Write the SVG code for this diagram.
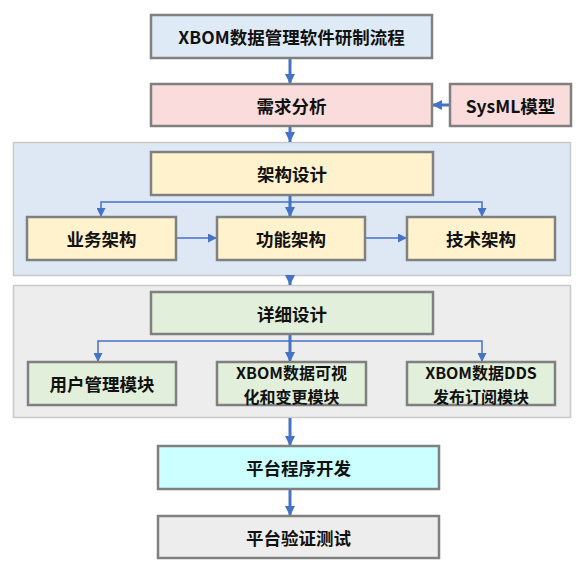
<svg xmlns="http://www.w3.org/2000/svg" width="586" height="574" viewBox="0 0 586 574">
<defs>
<style>
.box{stroke:#808080;stroke-width:2.5}
.cont{stroke:#c9c9c9;stroke-width:1.5}
.t{font-family:"Noto Sans CJK SC","Noto Sans",sans-serif;font-weight:bold;font-size:17.5px;fill:#111;text-anchor:middle;dominant-baseline:central}
.t2{font-size:16px}
.thick{stroke:#4472c4;stroke-width:3;fill:none}
.thin{stroke:#4472c4;stroke-width:1.5;fill:none}
</style>
<marker id="ah" viewBox="0 0 10 10" refX="10" refY="5" markerWidth="3.4" markerHeight="3.4" orient="auto" markerUnits="strokeWidth">
<path d="M0,0 L10,5 L0,10 Z" fill="#4472c4"/>
</marker>
<marker id="as" viewBox="0 0 10 10" refX="10" refY="5" markerWidth="6" markerHeight="6" orient="auto" markerUnits="strokeWidth">
<path d="M0,0 L10,5 L0,10 Z" fill="#4472c4"/>
</marker>
</defs>
<rect width="586" height="574" fill="#ffffff"/>
<g id="containers">
<rect id="arch-group" class="cont" x="13.5" y="142.5" width="557" height="133" fill="#dee8f4"/>
<rect id="detail-group" class="cont" x="13.5" y="285.5" width="557" height="132" fill="#ededed"/>
</g>
<g id="connectors">
<line class="thick" x1="290" y1="58" x2="290" y2="84" marker-end="url(#ah)"/>
<line class="thick" x1="290" y1="126" x2="290" y2="142" marker-end="url(#ah)"/>
<line class="thick" x1="450" y1="105" x2="432" y2="105" marker-end="url(#ah)"/>
<line class="thick" x1="290" y1="195" x2="290" y2="217" marker-end="url(#ah)"/>
<path class="thin" d="M290,202 H101 V217" marker-end="url(#as)"/>
<path class="thin" d="M290,202 H482 V217" marker-end="url(#as)"/>
<line class="thin" x1="176" y1="238" x2="217" y2="238" marker-end="url(#as)"/>
<line class="thin" x1="365" y1="238" x2="407" y2="238" marker-end="url(#as)"/>
<line class="thick" x1="290" y1="275" x2="290" y2="285" marker-end="url(#ah)"/>
<line class="thick" x1="290" y1="334" x2="290" y2="362" marker-end="url(#ah)"/>
<path class="thin" d="M290,341 H98 V362" marker-end="url(#as)"/>
<path class="thin" d="M290,341 H482 V362" marker-end="url(#as)"/>
<line class="thick" x1="290" y1="418" x2="290" y2="446" marker-end="url(#ah)"/>
<line class="thick" x1="290" y1="489" x2="290" y2="516" marker-end="url(#ah)"/>
</g>
<g id="n-title"><rect class="box" x="151" y="15" width="281" height="43" fill="#deebf7"/><text class="t" x="291.5" y="36.5">XBOM数据管理软件研制流程</text></g>
<g id="n-req"><rect class="box" x="151" y="84" width="281" height="42" fill="#f9dcdb"/><text class="t" x="291.5" y="105">需求分析</text></g>
<g id="n-sysml"><rect class="box" x="450" y="84" width="121" height="42" fill="#f9dcdb"/><text class="t" x="510.5" y="105">SysML模型</text></g>
<g id="n-arch"><rect class="box" x="151" y="152" width="282" height="43" fill="#fff2cc"/><text class="t" x="292" y="173.5">架构设计</text></g>
<g id="n-biz"><rect class="box" x="27" y="217" width="149" height="43" fill="#fff2cc"/><text class="t" x="101.5" y="238.5">业务架构</text></g>
<g id="n-func"><rect class="box" x="217" y="217" width="148" height="43" fill="#fff2cc"/><text class="t" x="291" y="238.5">功能架构</text></g>
<g id="n-tech"><rect class="box" x="407" y="217" width="148" height="43" fill="#fff2cc"/><text class="t" x="481" y="238.5">技术架构</text></g>
<g id="n-detail"><rect class="box" x="151" y="292" width="282" height="42" fill="#e2efda"/><text class="t" x="292" y="313">详细设计</text></g>
<g id="n-user"><rect class="box" x="28" y="362" width="148" height="43" fill="#e2efda"/><text class="t" x="102" y="383.5">用户管理模块</text></g>
<g id="n-vis"><rect class="box" x="217" y="362" width="149" height="43" fill="#e2efda"/><text class="t t2"><tspan x="291.5" y="372">XBOM数据可视</tspan><tspan x="291.5" y="395.5">化和变更模块</tspan></text></g>
<g id="n-dds"><rect class="box" x="407" y="362" width="148" height="43" fill="#e2efda"/><text class="t t2"><tspan x="481" y="372">XBOM数据DDS</tspan><tspan x="481" y="395.5">发布订阅模块</tspan></text></g>
<g id="n-dev"><rect class="box" x="158" y="446" width="281" height="43" fill="#ccffff"/><text class="t" x="298.5" y="467.5">平台程序开发</text></g>
<g id="n-test"><rect class="box" x="158" y="516" width="281" height="42" fill="#ededed"/><text class="t" x="298.5" y="537">平台验证测试</text></g>
</svg>
